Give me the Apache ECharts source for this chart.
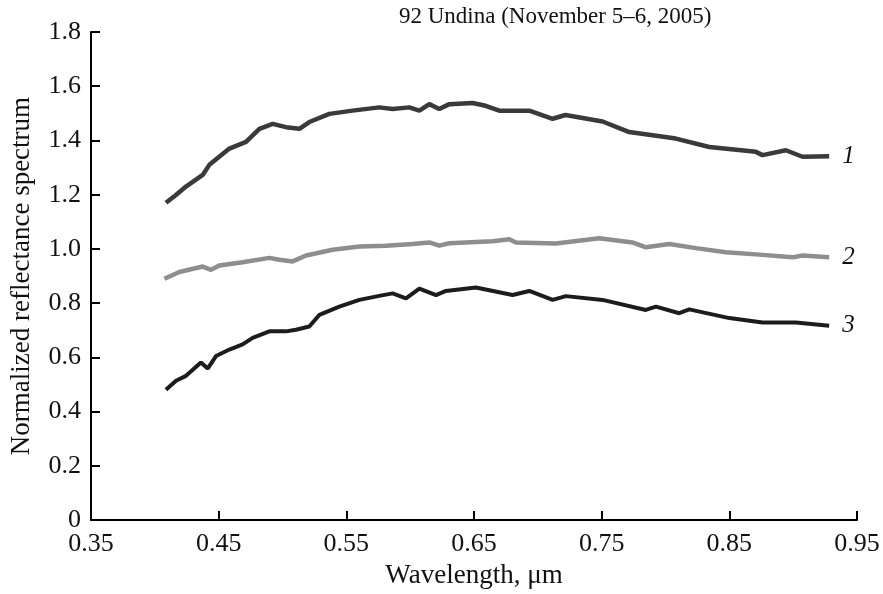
<!DOCTYPE html>
<html>
<head>
<meta charset="utf-8">
<script src="https://cdn.jsdelivr.net/npm/echarts@6/dist/echarts.min.js"></script>
<style>
html,body{margin:0;padding:0;background:#fff;}
#chart{width:883px;height:594px;}
</style>
</head>
<body>
<div id="chart"></div>
<script>
// Wavelength (µm) and normalized reflectance for each spectrum
const wl1 = [0.4087,0.4163,0.4244,0.4375,0.4427,0.4584,0.4714,0.4819,0.4923,0.5027,0.5132,0.5210,0.5367,0.5549,0.5758,0.5863,0.5993,0.6072,0.6150,0.6228,0.6307,0.6489,0.6591,0.6698,0.6933,0.7116,0.7217,0.7507,0.7716,0.8081,0.8343,0.8708,0.8760,0.8943,0.9073,0.9282];
const r1  = [1.170,1.198,1.230,1.273,1.310,1.370,1.395,1.443,1.461,1.449,1.443,1.468,1.498,1.510,1.522,1.516,1.522,1.510,1.534,1.516,1.534,1.538,1.528,1.510,1.510,1.480,1.494,1.470,1.431,1.407,1.376,1.358,1.346,1.364,1.340,1.342];

const wl2 = [0.4075,0.4192,0.4375,0.4440,0.4505,0.4688,0.4897,0.4975,0.5080,0.5184,0.5393,0.5602,0.5810,0.6019,0.6150,0.6228,0.6307,0.6646,0.6776,0.6828,0.7141,0.7481,0.7742,0.7846,0.8029,0.8238,0.8473,0.8734,0.8995,0.9073,0.9282];
const r2  = [0.890,0.915,0.935,0.923,0.939,0.951,0.967,0.960,0.954,0.976,0.997,1.009,1.012,1.018,1.024,1.012,1.021,1.028,1.036,1.024,1.020,1.039,1.024,1.006,1.018,1.003,0.988,0.979,0.969,0.976,0.969];

const wl3 = [0.4087,0.4166,0.4244,0.4361,0.4414,0.4479,0.4584,0.4688,0.4766,0.4897,0.5027,0.5105,0.5210,0.5289,0.5445,0.5602,0.5758,0.5863,0.5967,0.6072,0.6202,0.6280,0.6515,0.6802,0.6933,0.7116,0.7220,0.7507,0.7846,0.7925,0.8108,0.8186,0.8500,0.8760,0.9021,0.9282];
const r3  = [0.481,0.514,0.532,0.581,0.559,0.605,0.629,0.648,0.672,0.696,0.696,0.702,0.714,0.757,0.787,0.812,0.827,0.836,0.818,0.854,0.830,0.845,0.858,0.830,0.845,0.812,0.826,0.812,0.775,0.787,0.763,0.777,0.745,0.729,0.729,0.717];

const seriesNames = ['1','2','3'];
const titleText = '92 Undina (November 5\u20136, 2005)';
const xName = 'Wavelength, \u03bcm';
const yName = 'Normalized reflectance spectrum';

const pairs = (xs, ys) => xs.map((x, i) => [x, ys[i]]);
const FONT = '"Liberation Serif", "Times New Roman", serif';

const chart = echarts.init(document.getElementById('chart'), null, {renderer: 'canvas'});

function endLabel() {
  return {
    show: true,
    formatter: p => p.seriesName,
    fontFamily: FONT,
    fontStyle: 'italic',
    fontSize: 25,
    color: '#111',
    distance: 13
  };
}

chart.setOption({
  backgroundColor: '#fff',
  animation: false,
  title: {
    text: titleText,
    left: 394,
    top: 0,
    textStyle: {fontFamily: FONT, fontSize: 23, fontWeight: 'normal', color: '#111'}
  },
  grid: {left: 88, right: 26, top: 32, bottom: 68},
  xAxis: {
    type: 'value',
    min: 0.35, max: 0.95, interval: 0.1,
    name: xName, nameLocation: 'middle', nameGap: 40,
    nameTextStyle: {fontFamily: FONT, fontSize: 27, color: '#111'},
    axisLine: {lineStyle: {color: '#000', width: 2}},
    axisTick: {inside: true, length: 9, lineStyle: {color: '#000', width: 2}},
    axisLabel: {fontFamily: FONT, fontSize: 26, color: '#111', margin: 11,
      formatter: v => v.toFixed(2)},
    splitLine: {show: false}
  },
  yAxis: {
    type: 'value',
    min: 0, max: 1.8, interval: 0.2,
    name: yName, nameLocation: 'middle', nameGap: 56,
    nameTextStyle: {fontFamily: FONT, fontSize: 27, color: '#111'},
    axisLine: {show: true, lineStyle: {color: '#000', width: 2}},
    axisTick: {show: true, inside: true, length: 9, lineStyle: {color: '#000', width: 2}},
    axisLabel: {fontFamily: FONT, fontSize: 26, color: '#111', margin: 10,
      formatter: v => (Math.abs(v) < 1e-9 ? '0' : v.toFixed(1))},
    splitLine: {show: false}
  },
  series: [
    {name: seriesNames[0], type: 'line', data: pairs(wl1, r1), showSymbol: false,
     lineStyle: {color: '#3a3a3a', width: 4.5}, endLabel: endLabel()},
    {name: seriesNames[1], type: 'line', data: pairs(wl2, r2), showSymbol: false,
     lineStyle: {color: '#8e8e8e', width: 4.5}, endLabel: endLabel()},
    {name: seriesNames[2], type: 'line', data: pairs(wl3, r3), showSymbol: false,
     lineStyle: {color: '#1c1c1c', width: 4}, endLabel: endLabel()}
  ]
});
</script>
</body>
</html>
